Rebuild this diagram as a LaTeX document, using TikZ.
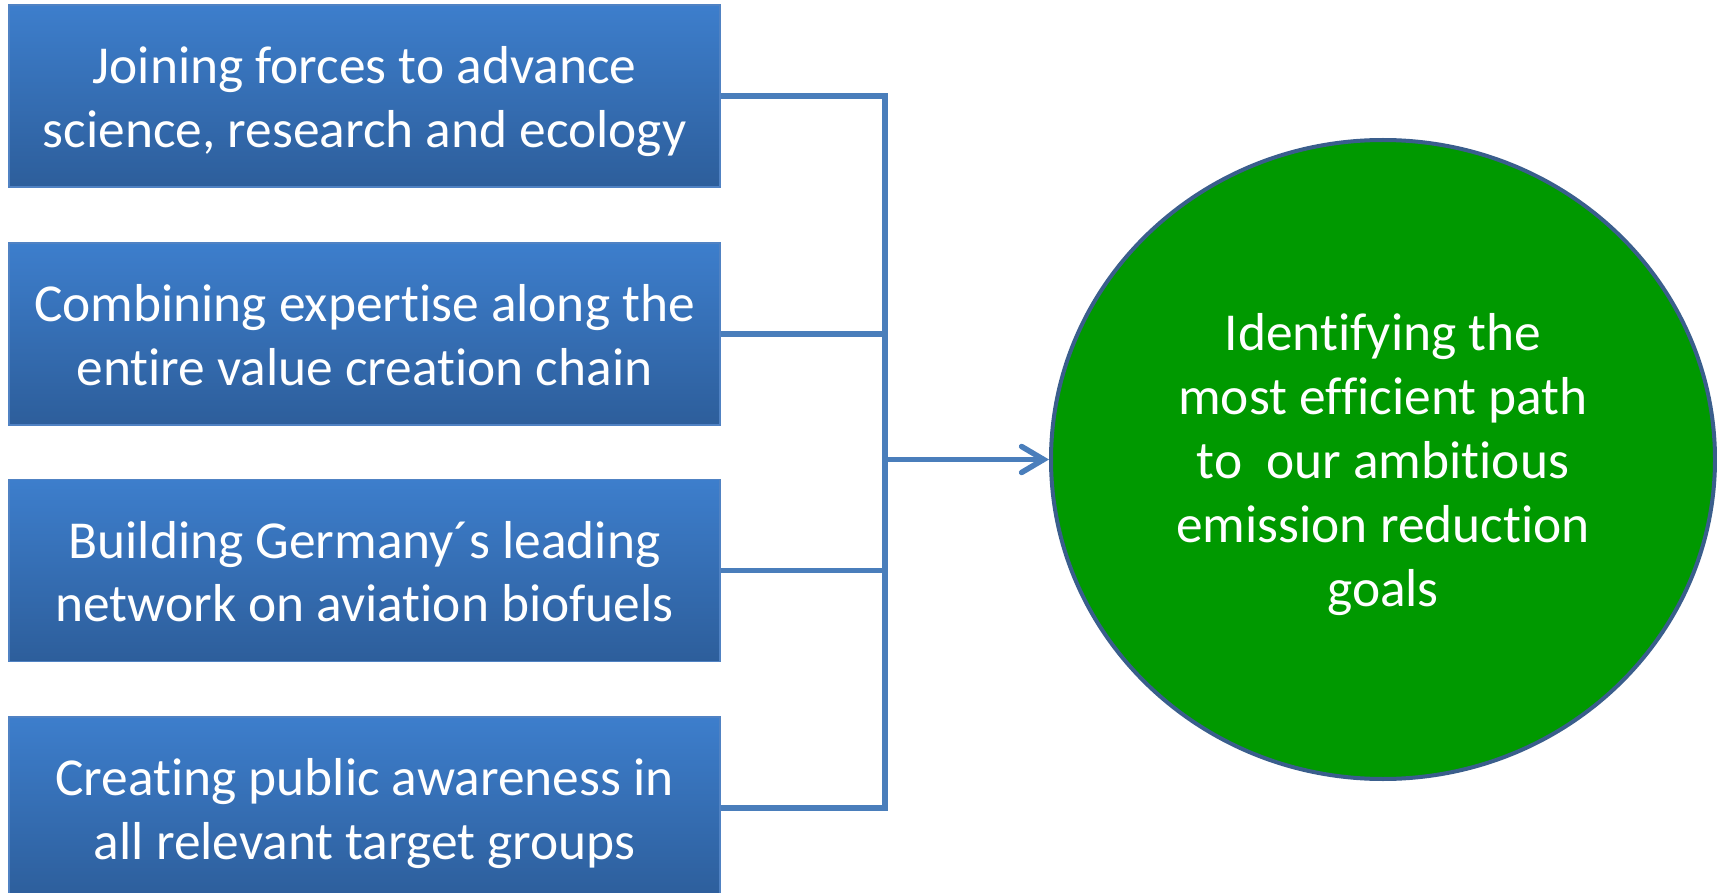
\documentclass[tikz,border=0pt]{standalone}
\usepackage{fontspec}
\setmainfont[Ligatures={NoCommon}]{Carlito}
\usetikzlibrary{arrows.meta,shapes.geometric}
\definecolor{boxtop}{RGB}{61,126,204}
\definecolor{boxbot}{RGB}{45,94,155}
\definecolor{boxedge}{RGB}{80,130,195}
\definecolor{conncol}{RGB}{74,126,187}
\definecolor{circfill}{RGB}{0,153,0}
\definecolor{circedge}{RGB}{58,94,140}
\tikzset{
  goalbox/.style={draw=boxedge, line width=1.5pt, top color=boxtop, bottom color=boxbot,
    minimum width=711pt, minimum height=182pt, inner sep=0pt},
  boxtext/.style={inner sep=0pt, align=center, text=white, yshift=-10.7pt,
    font=\fontsize{53.4}{63.5}\selectfont,
    execute at begin node=\strut, execute at end node=\strut},
  goalcirc/.style={ellipse, draw=circedge, line width=4pt, fill=circfill,
    minimum width=664pt, minimum height=639pt, inner sep=0pt},
  circtext/.style={inner sep=0pt, align=center, text=white, yshift=-5.5pt,
    font=\fontsize{53.4}{64}\selectfont},
  conn/.style={draw=conncol, line width=5.5pt},
}
\begin{document}
\begin{tikzpicture}[x=1pt,y=-1pt]
\useasboundingbox (0,0) rectangle (1717,893);
\clip (0,0) rectangle (1717,893);
\node[goalbox] (b1) at (364.5,96) {};
\node[goalbox] (b2) at (364.5,334) {};
\node[goalbox] (b3) at (364.5,570.5) {};
\node[goalbox] (b4) at (364.5,808) {};
\node[boxtext] (b1t) at (b1.center) {Joining forces to advance\\science, research and ecology};
\node[boxtext] (b2t) at (b2.center) {Combining expertise along the\\entire value creation chain};
\node[boxtext] (b3t) at (b3.center) {Building Germany´s leading\\network on aviation biofuels};
\node[boxtext] (b4t) at (b4.center) {Creating public awareness in\\all relevant target groups};
\node[goalcirc] (c) at (1383,459.5) {};
\node[circtext] (ct) at (c.center) {Identifying the\\most efficient path\\to\ \ our ambitious\\emission reduction\\goals};
\coordinate (t) at (885,96);
\draw[conn] (b1.east) -- (t) -- (t |- b4.east) -- (b4.east);
\draw[conn] (b2.east) -- (b2.east -| t);
\draw[conn] (b3.east) -- (b3.east -| t);
\draw[conn, -{Straight Barb[length=22pt,width=26pt,line cap=round]}] (t |- c.west) -- (c.west);
\end{tikzpicture}
\end{document}
